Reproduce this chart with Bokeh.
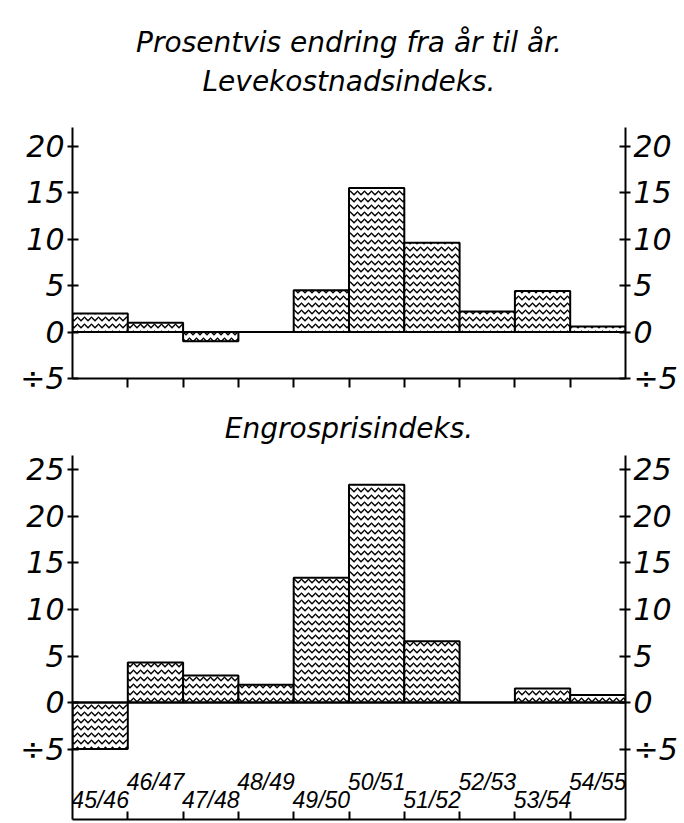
from bokeh.plotting import figure
from bokeh.models import (Range1d, LinearAxis, FixedTicker, Span, ColumnDataSource,
                          CustomLabelingPolicy)
from bokeh.layouts import column
from bokeh.embed import file_html
from bokeh.resources import INLINE
from bokeh.core.properties import value

# ---- data ----
periods = ["45/46", "46/47", "47/48", "48/49", "49/50",
           "50/51", "51/52", "52/53", "53/54", "54/55"]
levekost = [2.0, 1.0, -1.0, 0.0, 4.5, 15.5, 9.6, 2.2, 4.4, 0.6]
engros = [-5.0, 4.3, 2.9, 1.9, 13.4, 23.4, 6.6, 0.0, 1.5, 0.8]
top_ticks = [-5, 0, 5, 10, 15, 20]
bottom_ticks = [-5, 0, 5, 10, 15, 20, 25]
minus_label = {-5: "÷5"}
title_line1 = "Prosentvis endring fra år til år."
title_line2 = "Levekostnadsindeks."
title_bottom = "Engrosprisindeks."

# ---- styles ----
FONT = "DejaVu Sans"
LABEL_FONT = "Liberation Sans"
TICK_SIZE = "30px"
TITLE_SIZE = "28px"
W = 684
BL, BR = 72, 59
label_offsets = [51, 33]  # lower / upper staggering in px
HATCH = dict(hatch_pattern="horizontal_wave", hatch_scale=7,
             hatch_weight=1.4, hatch_color="black")


def style_yaxis(ax, ticks):
    ax.ticker = FixedTicker(ticks=ticks)
    ax.major_label_overrides = minus_label
    ax.major_label_text_font = FONT
    ax.major_label_text_font_style = "italic"
    ax.major_label_text_font_size = TICK_SIZE
    ax.major_label_text_color = "black"
    ax.major_label_standoff = 3
    ax.major_tick_in = 6
    ax.major_tick_out = 5
    ax.minor_tick_in = 0
    ax.minor_tick_out = 0
    ax.axis_line_width = 2
    ax.major_tick_line_width = 2
    ax.axis_line_color = "black"
    ax.major_tick_line_color = "black"


def style_title(t, text, standoff):
    t.text = text
    t.align = "center"
    t.vertical_align = "bottom"
    t.text_font = FONT
    t.text_font_style = "italic"
    t.text_font_size = TITLE_SIZE
    t.text_color = "black"
    t.standoff = standoff


def make_fig(vals, ticks, yr, height, btop, bbot, ticks_up):
    n = len(periods)
    p = figure(width=W, height=height, x_range=Range1d(0, n), y_range=Range1d(*yr),
               output_backend="svg", toolbar_location=None,
               min_border_left=BL, min_border_right=BR,
               min_border_top=btop, min_border_bottom=bbot)
    p.grid.visible = False
    p.outline_line_color = None
    p.background_fill_color = "white"
    p.border_fill_color = "white"
    style_yaxis(p.yaxis[0], ticks)
    ra = LinearAxis()
    style_yaxis(ra, ticks)
    p.add_layout(ra, "right")
    xa = p.xaxis[0]
    xa.ticker = FixedTicker(ticks=list(range(1, n)))
    xa.major_label_policy = CustomLabelingPolicy(code="return []")
    xa.major_label_text_font_size = "1px"
    xa.major_label_standoff = 0
    xa.minor_tick_in = 0
    xa.minor_tick_out = 0
    xa.axis_line_width = 2
    xa.major_tick_line_width = 2
    xa.axis_line_color = "black"
    xa.major_tick_line_color = "black"
    if ticks_up:
        xa.major_tick_in = 8
        xa.major_tick_out = 0
    else:
        xa.major_tick_in = 0
        xa.major_tick_out = 9
    src = ColumnDataSource(dict(x=[i + 0.5 for i in range(n)], top=vals, label=periods))
    p.vbar(x="x", top="top", bottom=0, width=1, source=src,
           fill_color="white", line_color="black", line_width=2, **HATCH)
    p.add_layout(Span(location=0, dimension="width", line_color="black", line_width=2))
    return p, src


p1, _ = make_fig(levekost, top_ticks, (-5, 22), 395, 127, 17, False)
# second title line: label of an empty axis above the frame
sub = LinearAxis(ticker=FixedTicker(ticks=[]), axis_label=title_line2,
                 axis_line_color=None, major_tick_out=0, major_tick_in=0,
                 minor_tick_out=0, minor_tick_in=0, major_label_standoff=0,
                 axis_label_standoff=30, axis_label_text_font=FONT,
                 axis_label_text_font_style="italic", axis_label_text_font_size=TITLE_SIZE,
                 axis_label_text_color="black")
p1.add_layout(sub, "above")
style_title(p1.title, title_line1, 6)

p2, src2 = make_fig(engros, bottom_ticks, (-12.57, 26.55), 428, 60, 3, True)
style_title(p2.title, title_bottom, 22)

src2.data["ybase"] = [min(bottom_ticks)] * len(periods)
src2.data["yoff"] = [label_offsets[i % 2] for i in range(len(periods))]
p2.text(x="x", y="ybase", text="label", source=src2, y_offset="yoff",
        text_font=value(LABEL_FONT), text_font_style="italic", text_font_size="23px",
        text_align="center", text_baseline="middle", text_color="black")

layout = column(p1, p2, spacing=0)
open("out.html", "w").write(file_html(layout, INLINE))
